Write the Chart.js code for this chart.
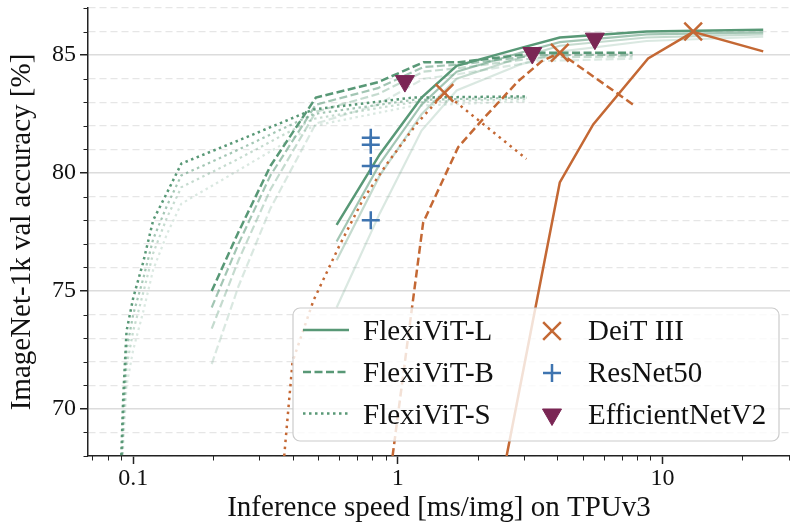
<!DOCTYPE html>
<html>
<head>
<meta charset="utf-8">
<script src="https://cdn.jsdelivr.net/npm/chart.js@4.4.1/dist/chart.umd.min.js"></script>
<style>
  html, body { margin: 0; padding: 0; background: #fff; }
  #wrap { width: 790px; height: 524px; }
</style>
</head>
<body>
<div id="wrap"><canvas id="grafico" width="790" height="524"></canvas></div>
<script>
// eixos
const xTicks = [0.07, 0.08, 0.09, 0.1, 0.2, 0.3, 0.4, 0.5, 0.6, 0.7, 0.8, 0.9, 1, 2, 3, 4, 5, 6, 7, 8, 9, 10, 20, 30];
const xTickValues = [0.1, 1, 10];
const xTickLabels = ['0.1', '1', '10'];
const yTicks = [68, 69, 70, 71, 72, 73, 74, 75, 76, 77, 78, 79, 80, 81, 82, 83, 84, 85, 86, 87];
const yTickValues = [70, 75, 80, 85];
const yTickLabels = ['70', '75', '80', '85'];

// FlexiViT-L (1200 / 600 / 300 / 90 epochs)
const flexLSpeed = [0.587, 0.855, 1.229, 1.667, 2.9, 4.09, 8.7, 24.0];
const flexL1200 = [77.8, 80.8, 83.2, 84.55, 85.3, 85.75, 86.0, 86.08];
const flexL600 = [77.1, 80.4, 82.9, 84.3, 85.1, 85.55, 85.88, 85.97];
const flexL300 = [76.3, 79.9, 82.5, 84.0, 84.9, 85.4, 85.75, 85.88];
const flexL90 = [74.3, 78.3, 81.8, 83.5, 84.6, 85.15, 85.6, 85.78];

// FlexiViT-B
const flexBSpeed = [0.198, 0.25, 0.33, 0.49, 0.84, 1.25, 1.7, 3.4, 7.7];
const flexB1200 = [75.0, 77.5, 80.3, 83.2, 83.85, 84.7, 84.7, 85.1, 85.1];
const flexB600 = [74.3, 77.0, 79.9, 82.9, 83.6, 84.5, 84.6, 85.0, 85.02];
const flexB300 = [73.4, 76.3, 79.3, 82.6, 83.35, 84.3, 84.45, 84.9, 84.95];
const flexB90 = [71.9, 75.2, 78.5, 82.1, 82.9, 84.0, 84.2, 84.75, 84.85];

// FlexiViT-S
const flexSSpeed = [0.089, 0.0917, 0.0944, 0.10, 0.109, 0.119, 0.134, 0.152, 0.24, 0.48, 1.14, 3.06];
const flexS1200 = [66.0, 70.5, 73.3, 74.7, 76.2, 78.0, 79.15, 80.4, 81.3, 82.7, 83.2, 83.25];
const flexS600 = [65.5, 69.8, 72.5, 74.0, 75.5, 77.2, 78.6, 79.9, 80.9, 82.5, 83.1, 83.2];
const flexS300 = [65.0, 69.2, 71.8, 73.3, 74.9, 76.6, 78.1, 79.4, 80.5, 82.3, 83.0, 83.15];
const flexS90 = [64.5, 68.5, 71.0, 72.5, 74.1, 75.9, 77.4, 78.7, 80.0, 82.0, 82.85, 83.05];

// DeiT III (S / B / L)
const deitSSpeed = [0.372, 0.40, 0.48, 0.60, 0.74, 0.91, 1.18, 1.50, 3.06];
const deitSAcc = [68.0, 72.0, 74.6, 76.9, 78.9, 80.4, 82.1, 83.4, 80.6];
const deitBSpeed = [0.955, 1.246, 1.69, 2.10, 2.85, 3.5, 4.09, 7.86];
const deitBAcc = [68.0, 77.9, 81.1, 82.3, 83.9, 84.75, 85.1, 82.85];
const deitLSpeed = [2.575, 4.09, 5.47, 8.82, 13.05, 24.0];
const deitLAcc = [68.0, 79.6, 82.06, 84.86, 85.99, 85.16];
const deitBestSpeed = [1.50, 4.09, 13.05];
const deitBestAcc = [83.4, 85.1, 86.0];

// ResNet50 e EfficientNetV2
const resnetSpeed = [0.79, 0.79, 0.79, 0.79];
const resnetAcc = [81.5, 81.2, 80.3, 78.0];
const effSpeed = [1.063, 3.22, 5.55];
const effAcc = [83.9, 85.09, 85.7];

const verde = (a) => `rgba(88,152,118,${a})`;
const laranja = 'rgb(196,104,52)';
const azul = 'rgb(62,116,176)';
const roxo = 'rgb(122,38,84)';
const fonte = "'Liberation Serif', 'DejaVu Serif', serif";

function serie(xs, ys) {
  return xs.map((x, i) => ({ x: x, y: ys[i] }));
}

function linha(label, xs, ys, cor, dash, largura, ordem) {
  return {
    label: label,
    data: serie(xs, ys),
    borderColor: cor,
    borderWidth: largura,
    borderDash: dash,
    pointRadius: 0,
    tension: 0,
    fill: false,
    order: ordem
  };
}

function marcador(label, xs, ys, cor, estilo, raio, rot, preenche) {
  return {
    label: label,
    data: serie(xs, ys),
    showLine: false,
    pointStyle: estilo,
    pointRadius: raio,
    pointRotation: rot,
    pointBorderWidth: preenche ? 1 : 2.5,
    borderColor: cor,
    backgroundColor: cor,
    pointBackgroundColor: cor,
    pointBorderColor: cor,
    order: 0
  };
}

const tracejado = [8, 3.5];
const pontilhado = [2.5, 3.5];

const datasets = [
  marcador('DeiT III', deitBestSpeed, deitBestAcc, laranja, 'crossRot', 12.5, 0, false),
  marcador('ResNet50', resnetSpeed, resnetAcc, azul, 'cross', 9, 0, false),
  marcador('EfficientNetV2', effSpeed, effAcc, roxo, 'triangle', 11, 180, true),

  linha('DeiT III-S', deitSSpeed, deitSAcc, laranja, [2.5, 4.5], 2.5, 1),
  linha('DeiT III-B', deitBSpeed, deitBAcc, laranja, [8, 4], 2.5, 1),
  linha('DeiT III-L', deitLSpeed, deitLAcc, laranja, [], 2.5, 1),

  linha('FlexiViT-L', flexLSpeed, flexL1200, verde(1), [], 2.5, 2),
  linha('FlexiViT-B', flexBSpeed, flexB1200, verde(1), tracejado, 2.5, 2),
  linha('FlexiViT-S', flexSSpeed, flexS1200, verde(1), pontilhado, 2.5, 2),

  linha('L 600', flexLSpeed, flexL600, verde(0.55), [], 2.2, 3),
  linha('B 600', flexBSpeed, flexB600, verde(0.55), tracejado, 2.2, 3),
  linha('S 600', flexSSpeed, flexS600, verde(0.55), pontilhado, 2.2, 3),
  linha('L 300', flexLSpeed, flexL300, verde(0.35), [], 2.2, 4),
  linha('B 300', flexBSpeed, flexB300, verde(0.35), tracejado, 2.2, 4),
  linha('S 300', flexSSpeed, flexS300, verde(0.35), pontilhado, 2.2, 4),
  linha('L 90', flexLSpeed, flexL90, verde(0.22), [], 2.2, 5),
  linha('B 90', flexBSpeed, flexB90, verde(0.22), tracejado, 2.2, 5),
  linha('S 90', flexSSpeed, flexS90, verde(0.22), pontilhado, 2.2, 5)
];

// ticks menores + legenda em duas colunas
const extras = {
  id: 'extras',
  afterDraw(chart) {
    const { ctx, scales: { x, y } } = chart;
    ctx.save();
    ctx.strokeStyle = '#222';
    ctx.lineWidth = 1;
    ctx.setLineDash([]);
    xTicks.forEach(v => {
      if (xTickValues.includes(v)) return;
      const px = Math.round(x.getPixelForValue(v)) + 0.5;
      ctx.beginPath();
      ctx.moveTo(px, x.top);
      ctx.lineTo(px, x.top + 4.5);
      ctx.stroke();
    });
    yTicks.forEach(v => {
      if (yTickValues.includes(v)) return;
      const py = Math.round(y.getPixelForValue(v)) + 0.5;
      ctx.beginPath();
      ctx.moveTo(y.right - 4.5, py);
      ctx.lineTo(y.right, py);
      ctx.stroke();
    });

    // caixa da legenda
    const bx = 293, by = 308, bw = 486, bh = 133, r = 7;
    ctx.beginPath();
    ctx.roundRect(bx, by, bw, bh, r);
    ctx.fillStyle = 'rgba(255,255,255,0.8)';
    ctx.fill();
    ctx.strokeStyle = '#cccccc';
    ctx.lineWidth = 1.2;
    ctx.stroke();

    const linhas = [0, 1, 2].map(i => chart.data.datasets.find(d => d.label === ['FlexiViT-L', 'FlexiViT-B', 'FlexiViT-S'][i]));
    const marcas = [0, 1, 2].map(i => chart.data.datasets[i]);
    const rowsY = [330, 372, 413.5];

    ctx.font = `29px ${fonte}`;
    ctx.textBaseline = 'alphabetic';
    ctx.textAlign = 'left';
    linhas.forEach((d, i) => {
      ctx.beginPath();
      ctx.strokeStyle = d.borderColor;
      ctx.lineWidth = d.borderWidth;
      ctx.setLineDash(d.borderDash);
      ctx.moveTo(303, rowsY[i]);
      ctx.lineTo(349, rowsY[i]);
      ctx.stroke();
      ctx.setLineDash([]);
      ctx.fillStyle = '#111';
      ctx.fillText(d.label, 363, rowsY[i] + 10);
    });
    marcas.forEach((d, i) => {
      ctx.strokeStyle = d.pointBorderColor;
      ctx.fillStyle = d.pointBackgroundColor;
      ctx.lineWidth = d.pointBorderWidth;
      Chart.helpers.drawPoint(ctx, {
        pointStyle: d.pointStyle,
        radius: d.pointRadius,
        rotation: d.pointRotation,
        borderWidth: d.pointBorderWidth
      }, 552, rowsY[i] + 1);
      ctx.fillStyle = '#111';
      ctx.fillText(d.label, 588, rowsY[i] + 10);
    });
    ctx.restore();
  }
};

const ctx = document.getElementById('grafico').getContext('2d');
const grafico = new Chart(ctx, {
  type: 'line',
  data: { datasets: datasets },
  plugins: [extras],
  options: {
    responsive: false,
    animation: false,
    events: [],
    layout: { autoPadding: false, padding: { top: 8, right: 0, left: 0, bottom: 0 } },
    plugins: { legend: { display: false }, tooltip: { enabled: false } },
    scales: {
      x: {
        type: 'logarithmic',
        min: 0.0675,
        max: 30.3,
        afterBuildTicks: s => { s.ticks = xTicks.map(v => ({ value: v })); },
        afterFit: s => { s.height = 68; s.paddingLeft = 0; s.paddingRight = 0; },
        ticks: {
          autoSkip: false,
          maxRotation: 0,
          padding: 0,
          color: '#111',
          font: { family: fonte, size: 24 },
          callback: v => { const i = xTickValues.indexOf(v); return i >= 0 ? xTickLabels[i] : ''; }
        },
        grid: {
          drawOnChartArea: false,
          drawTicks: true,
          tickLength: 8,
          tickWidth: 1.5,
          tickColor: c => (c.tick && xTickValues.includes(c.tick.value)) ? '#222' : 'rgba(0,0,0,0)'
        },
        border: { display: true, color: '#222', width: 1.5 },
        title: {
          display: true,
          text: 'Inference speed [ms/img] on TPUv3',
          color: '#111',
          font: { family: fonte, size: 29, lineHeight: 1.1 },
          padding: { top: 0, bottom: 0 }
        }
      },
      y: {
        type: 'linear',
        min: 68,
        max: 87,
        afterBuildTicks: s => { s.ticks = yTicks.map(v => ({ value: v })); },
        afterFit: s => { s.width = 88; s.paddingTop = 0; s.paddingBottom = 0; },
        ticks: {
          autoSkip: false,
          padding: 4,
          color: '#111',
          font: { family: fonte, size: 24 },
          callback: v => { const i = yTickValues.indexOf(v); return i >= 0 ? yTickLabels[i] : ''; }
        },
        grid: {
          drawOnChartArea: true,
          drawTicks: true,
          tickLength: 8,
          tickWidth: 1.5,
          color: c => (c.tick && yTickValues.includes(c.tick.value)) ? '#dcdcdc' : '#e6e6e6',
          lineWidth: c => (c.tick && yTickValues.includes(c.tick.value)) ? 1.5 : 1.2,
          tickColor: c => (c.tick && yTickValues.includes(c.tick.value)) ? '#222' : 'rgba(0,0,0,0)'
        },
        border: {
          display: true,
          color: '#222',
          width: 1.5,
          dash: c => (c.tick && !yTickValues.includes(c.tick.value)) ? [7, 4] : []
        },
        title: {
          display: true,
          text: 'ImageNet-1k val accuracy [%]',
          color: '#111',
          font: { family: fonte, size: 29, lineHeight: 1.1 },
          padding: { top: 6, bottom: 0 }
        }
      }
    }
  }
});
</script>
</body>
</html>
